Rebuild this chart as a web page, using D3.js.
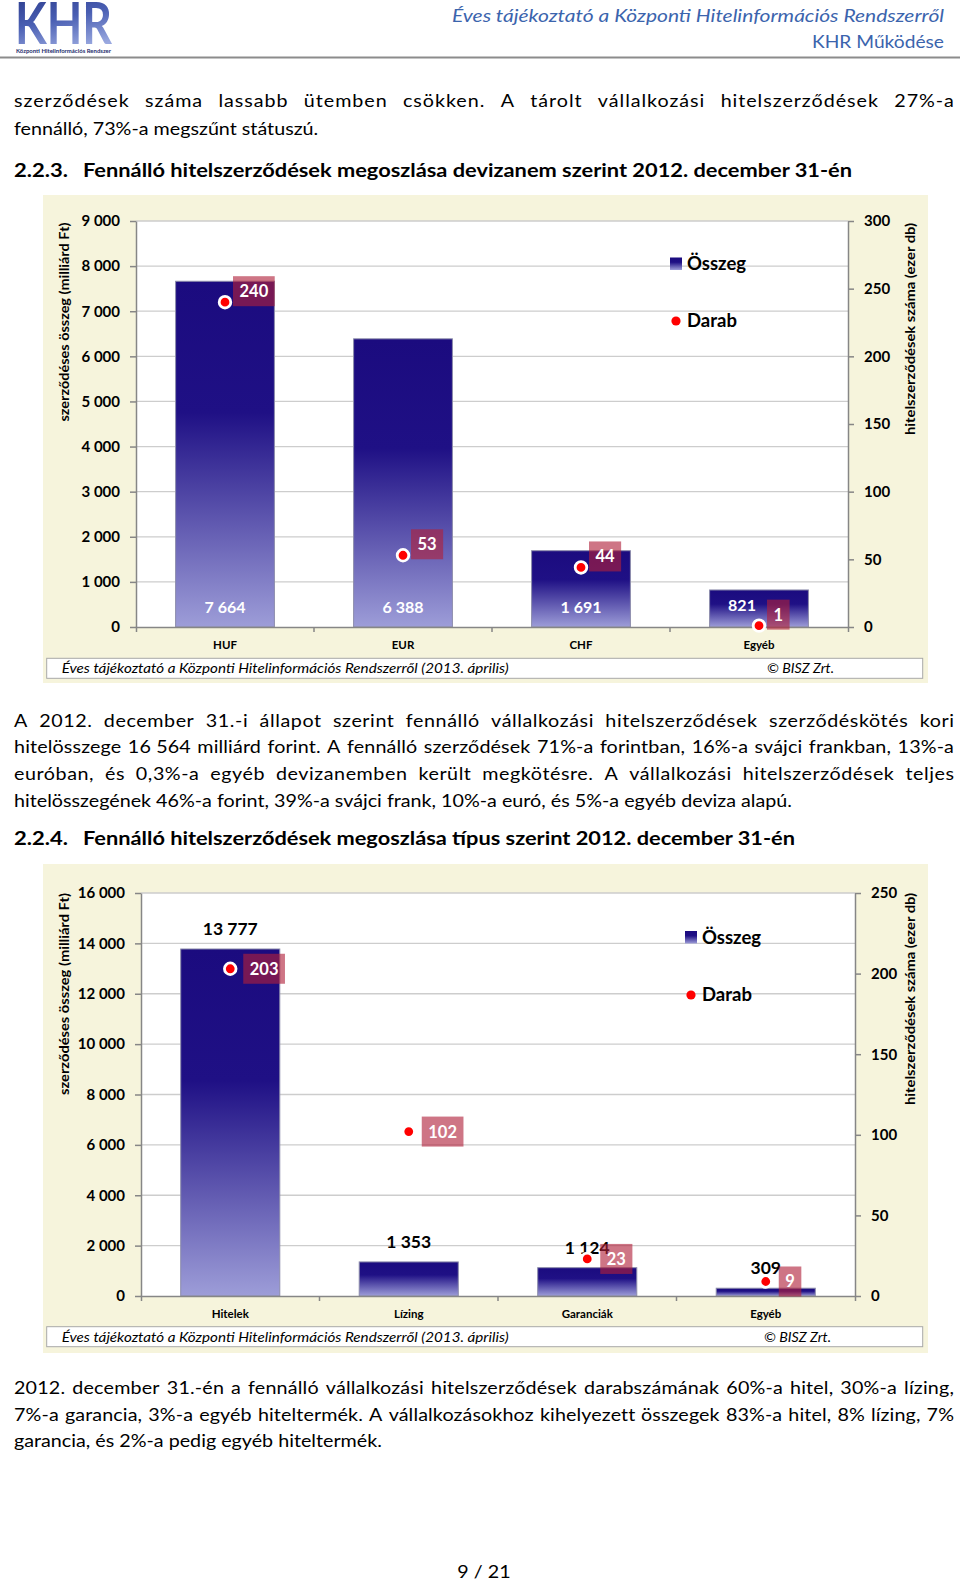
<!DOCTYPE html>
<html>
<head>
<meta charset="utf-8">
<script src="https://cdn.jsdelivr.net/npm/d3@7"></script>
<style>
  body { margin: 0; background: #fff; }
  text { font-family: Lato, "Open Sans", sans-serif; }
</style>
</head>
<body>
<svg id="page" width="960" height="1585"></svg>
<script>
// ---- data ----
const devizaCats = ["HUF", "EUR", "CHF", "Egyéb"]
const devizaOsszeg = [7664, 6388, 1691, 821]
const devizaDarab = [240, 53, 44, 1]
const devizaLeftTicks = [0, 1000, 2000, 3000, 4000, 5000, 6000, 7000, 8000, 9000]
const devizaRightTicks = [0, 50, 100, 150, 200, 250, 300]

const tipusCats = ["Hitelek", "Lízing", "Garanciák", "Egyéb"]
const tipusOsszeg = [13777, 1353, 1124, 309]
const tipusDarab = [203, 102, 23, 9]
const tipusLeftTicks = [0, 2000, 4000, 6000, 8000, 10000, 12000, 14000, 16000]
const tipusRightTicks = [0, 50, 100, 150, 200, 250]

const para1 = [
  "szerződések száma lassabb ütemben csökken. A tárolt vállalkozási hitelszerződések 27%-a",
  "fennálló, 73%-a megszűnt státuszú."
]
const para2 = [
  "A 2012. december 31.-i állapot szerint fennálló vállalkozási hitelszerződések szerződéskötés kori",
  "hitelösszege 16\u00a0564 milliárd forint. A fennálló szerződések 71%-a forintban, 16%-a svájci frankban, 13%-a",
  "euróban, és 0,3%-a egyéb devizanemben került megkötésre. A vállalkozási hitelszerződések teljes",
  "hitelösszegének 46%-a forint, 39%-a svájci frank, 10%-a euró, és 5%-a egyéb deviza alapú."
]
const para3 = [
  "2012. december 31.-én a fennálló vállalkozási hitelszerződések darabszámának 60%-a hitel, 30%-a lízing,",
  "7%-a garancia, 3%-a egyéb hiteltermék. A vállalkozásokhoz kihelyezett összegek 83%-a hitel, 8% lízing, 7%",
  "garancia, és 2%-a pedig egyéb hiteltermék."
]
const heading1 = ["2.2.3.", "Fennálló hitelszerződések megoszlása devizanem szerint 2012. december 31-én"]
const heading2 = ["2.2.4.", "Fennálló hitelszerződések megoszlása típus szerint 2012. december 31-én"]
const sourceText = "Éves tájékoztató a Központi Hitelinformációs Rendszerről (2013. április)"
const copyText = "© BISZ Zrt."

const fmt = d3.formatLocale({decimal: ",", thousands: " ", grouping: [3], currency: ["", ""]}).format(",d")

const svg = d3.select("#page")
const defs = svg.append("defs")

// bar gradient, dark on top, light at the base
const barGrad = defs.append("linearGradient").attr("id", "barGrad")
  .attr("x1", 0).attr("y1", 0).attr("x2", 0).attr("y2", 1)
barGrad.append("stop").attr("offset", 0).attr("stop-color", "#1b0b7f")
barGrad.append("stop").attr("offset", 0.38).attr("stop-color", "#1f1085")
barGrad.append("stop").attr("offset", 1).attr("stop-color", "#9d9dd8")

const logoGrad = defs.append("linearGradient").attr("id", "logoGrad")
  .attr("x1", 0).attr("y1", 0).attr("x2", 0.3).attr("y2", 1)
logoGrad.append("stop").attr("offset", 0).attr("stop-color", "#243383")
logoGrad.append("stop").attr("offset", 0.55).attr("stop-color", "#4a5fb3")
logoGrad.append("stop").attr("offset", 1).attr("stop-color", "#9aa9e0")

function measure(str, size, weight, style) {
  const t = svg.append("text").attr("font-size", size).attr("font-weight", weight || "normal")
    .attr("font-style", style || "normal").text(str)
  const w = t.node().getComputedTextLength()
  t.remove()
  return w
}

// ---- header ----
svg.append("text").attr("x", 15).attr("y", 44)
  .attr("font-family", "Liberation Sans").attr("font-weight", "bold").attr("font-size", 58)
  .attr("textLength", 97).attr("lengthAdjust", "spacingAndGlyphs")
  .attr("fill", "url(#logoGrad)").text("KHR")
svg.append("text").attr("x", 16).attr("y", 53)
  .attr("font-family", "Liberation Sans").attr("font-weight", "bold").attr("font-size", 5.5)
  .attr("textLength", 95).attr("lengthAdjust", "spacingAndGlyphs")
  .attr("fill", "#1e2c6c").text("Központi Hitelinformációs Rendszer")

svg.append("text").attr("x", 944).attr("y", 22).attr("text-anchor", "end")
  .attr("font-size", 17.5).attr("font-style", "italic").attr("fill", "#3b64ad")
  .attr("textLength", 492).attr("lengthAdjust", "spacingAndGlyphs")
  .text("Éves tájékoztató a Központi Hitelinformációs Rendszerről")
svg.append("text").attr("x", 944).attr("y", 48).attr("text-anchor", "end")
  .attr("font-size", 17.5).attr("fill", "#3b64ad")
  .attr("textLength", 132).attr("lengthAdjust", "spacingAndGlyphs")
  .text("KHR Működése")
svg.append("line").attr("x1", 0).attr("x2", 960).attr("y1", 57.5).attr("y2", 57.5)
  .attr("stroke", "#8c8c8c").attr("stroke-width", 1.8)

// ---- body text ----
const BODY_SIZE = 17.5
const LEFT = 14, RIGHT = 954
const k = 779 / measure(para2[3], BODY_SIZE)
const spaceW = (measure("a a", BODY_SIZE) - measure("aa", BODY_SIZE)) * k
const SPREAD = 0.45   // share of the justification slack given to letter spacing

function textLine(str, y, justify) {
  if (!justify) {
    svg.append("text").attr("transform", `translate(${LEFT},${y}) scale(${k},1)`)
      .attr("font-size", BODY_SIZE).attr("fill", "#000").text(str)
    return
  }
  const words = str.split(" ")
  const lens = words.map(w => Array.from(w).length)
  const ws = words.map(w => measure(w, BODY_SIZE) * k)
  const slack = (RIGHT - LEFT) - d3.sum(ws) - spaceW * (words.length - 1)
  const ls = Math.max(0, SPREAD * slack / d3.sum(lens))
  const full = ws.map((w, i) => w + ls * (lens[i] - 1))
  const gap = (RIGHT - LEFT - d3.sum(full)) / (words.length - 1)
  let x = LEFT
  words.forEach((w, i) => {
    svg.append("text").attr("transform", `translate(${x},${y}) scale(${k},1)`)
      .attr("font-size", BODY_SIZE).attr("letter-spacing", ls / k).attr("fill", "#000").text(w)
    x += full[i] + gap
  })
}

function paragraph(lines, y0, step) {
  lines.forEach((l, i) => textLine(l, y0 + i * step, i < lines.length - 1))
}

function heading(parts, y, width) {
  svg.append("text").attr("x", LEFT).attr("y", y).attr("font-size", 19).attr("font-weight", "bold")
    .attr("textLength", 54).attr("lengthAdjust", "spacingAndGlyphs").text(parts[0])
  svg.append("text").attr("x", 83).attr("y", y).attr("font-size", 19).attr("font-weight", "bold")
    .attr("textLength", width).attr("lengthAdjust", "spacingAndGlyphs").text(parts[1])
}

paragraph(para1, 107, 27.8)
heading(heading1, 177, 769)
paragraph(para2, 726.5, 26.8)
heading(heading2, 845, 712)
paragraph(para3, 1394, 26.5)

svg.append("text").attr("transform", `translate(484,1578) scale(${k},1)`).attr("text-anchor", "middle")
  .attr("font-size", BODY_SIZE).text("9 / 21")

// ---- charts ----
function styleAxis(a, size) {
  a.attr("font-family", null).attr("font-size", size).attr("font-weight", "bold")
  a.select(".domain").attr("stroke", "#868686").attr("stroke-width", 1.5)
  a.selectAll(".tick line").attr("stroke", "#868686").attr("stroke-width", 1.5)
  a.selectAll(".tick text").attr("fill", "#000")
}

function drawChart(cfg) {
  const g = svg.append("g")
  const p = cfg.plot

  g.append("rect").attr("x", cfg.panel.x).attr("y", cfg.panel.y)
    .attr("width", cfg.panel.w).attr("height", cfg.panel.h).attr("fill", "#f6f4dc")
  g.append("rect").attr("x", p.x0).attr("y", p.y0)
    .attr("width", p.x1 - p.x0).attr("height", p.y1 - p.y0).attr("fill", "#fff")

  const x = d3.scaleBand().domain(cfg.cats).range([p.x0, p.x1]).paddingInner(0.445).paddingOuter(0.2225)
  const yL = d3.scaleLinear().domain(d3.extent(cfg.leftTicks)).range([p.y1, p.y0])
  const yR = d3.scaleLinear().domain(d3.extent(cfg.rightTicks)).range([p.y1, p.y0])

  const rows = cfg.cats.map((c, i) => ({cat: c, osszeg: cfg.osszeg[i], darab: cfg.darab[i]}))

  g.selectAll(".grid").data(cfg.leftTicks.slice(1)).join("line").attr("class", "grid")
    .attr("x1", p.x0).attr("x2", p.x1).attr("y1", d => yL(d)).attr("y2", d => yL(d))
    .attr("stroke", "#cdcdcd").attr("stroke-width", 1.3)

  g.selectAll(".bar").data(rows).join("rect").attr("class", "bar")
    .attr("x", d => x(d.cat)).attr("y", d => yL(d.osszeg))
    .attr("width", x.bandwidth()).attr("height", d => yL(0) - yL(d.osszeg))
    .attr("fill", "url(#barGrad)").attr("stroke", "#8c8cab").attr("stroke-width", 1)

  const left = g.append("g").attr("transform", `translate(${p.x0},0)`)
    .call(d3.axisLeft(yL).tickValues(cfg.leftTicks).tickFormat(fmt).tickSize(6).tickSizeOuter(0).tickPadding(10))
  styleAxis(left, 15)
  const right = g.append("g").attr("transform", `translate(${p.x1},0)`)
    .call(d3.axisRight(yR).tickValues(cfg.rightTicks).tickSize(6).tickSizeOuter(0).tickPadding(10))
  styleAxis(right, 15)
  const bottom = g.append("g").attr("transform", `translate(0,${p.y1})`)
    .call(d3.axisBottom(x).tickSize(0).tickSizeOuter(5).tickPadding(14))
  styleAxis(bottom, 11.5)
  // category boundary ticks
  const bounds = cfg.cats.slice(1).map(c => x(c) - x.step() * x.paddingInner() / 2)
  g.selectAll(".btick").data(bounds).join("line").attr("class", "btick")
    .attr("x1", d => d).attr("x2", d => d).attr("y1", p.y1).attr("y2", p.y1 + 5)
    .attr("stroke", "#868686").attr("stroke-width", 1.5)

  // amount labels
  const lowDot = d => cfg.inside && yR(d.darab) > yL(0) - 30
  g.selectAll(".vlab").data(rows).join("text").attr("class", "vlab")
    .attr("x", d => x(d.cat) + x.bandwidth() / 2 - (lowDot(d) ? 17 : 0))
    .attr("y", d => cfg.inside ? yL(0) - (lowDot(d) ? 16 : 14) : yL(d.osszeg) - 14)
    .attr("text-anchor", "middle").attr("font-weight", "bold")
    .attr("font-size", cfg.inside ? 16 : 17.5).attr("fill", cfg.inside ? "#fff" : "#000")
    .text(d => fmt(d.osszeg))

  // count markers with their label boxes
  g.selectAll(".dot").data(rows).join("circle").attr("class", "dot")
    .attr("cx", d => x(d.cat) + x.bandwidth() / 2).attr("cy", d => yR(d.darab))
    .attr("r", 5.8).attr("fill", "#f00").attr("stroke", "#fff").attr("stroke-width", 2.8)

  rows.forEach(d => {
    const cx = x(d.cat) + x.bandwidth() / 2, cy = yR(d.darab)
    const s = String(d.darab)
    const bw = measure(s, 16.5, "bold") + 13
    const bx = cx + cfg.boxDx, by = cy + cfg.boxDy
    g.append("rect").attr("x", bx).attr("y", by).attr("width", bw).attr("height", 30)
      .attr("fill", "rgb(176,32,58)").attr("fill-opacity", 0.62)
    g.append("text").attr("x", bx + bw / 2).attr("y", by + 21)
      .attr("text-anchor", "middle").attr("font-size", 16.5).attr("font-weight", "bold")
      .attr("fill", "#fff").text(s)
  })

  // legend
  const lg = cfg.legend
  g.append("rect").attr("x", lg.x).attr("y", lg.y - 12.5).attr("width", 12).attr("height", 12.5)
    .attr("fill", "url(#barGrad)")
  g.append("text").attr("x", lg.x + 17).attr("y", lg.y).attr("font-size", 18.5).attr("font-weight", "bold")
    .text("Összeg")
  g.append("circle").attr("cx", lg.x + 6).attr("cy", lg.y2 - 6).attr("r", 4.6).attr("fill", "#f00")
  g.append("text").attr("x", lg.x + 17).attr("y", lg.y2).attr("font-size", 18.5).attr("font-weight", "bold")
    .text("Darab")

  // axis titles
  g.append("text").attr("transform", `translate(${cfg.panel.x + 26},${cfg.titleLeftY}) rotate(-90)`)
    .attr("text-anchor", "middle").attr("font-size", 12.6).attr("font-weight", "bold")
    .attr("textLength", cfg.titleLeftLen).attr("lengthAdjust", "spacingAndGlyphs")
    .text("szerződéses összeg (milliárd Ft)")
  g.append("text").attr("transform", `translate(914.5,${cfg.titleRightY}) rotate(-90)`)
    .attr("text-anchor", "middle").attr("font-size", 12.6).attr("font-weight", "bold")
    .attr("textLength", 212).attr("lengthAdjust", "spacingAndGlyphs")
    .text("hitelszerződések száma (ezer db)")

  // source footer
  const fy = cfg.footerY
  g.append("rect").attr("x", 46.7).attr("y", fy).attr("width", 876).attr("height", 20)
    .attr("fill", "#fff").attr("stroke", "#a8a8a8").attr("stroke-width", 1)
  g.append("text").attr("x", 61.7).attr("y", fy + 15).attr("font-size", 14).attr("font-style", "italic")
    .attr("textLength", 447).attr("lengthAdjust", "spacingAndGlyphs").text(sourceText)
  g.append("text").attr("x", cfg.copyX).attr("y", fy + 15).attr("font-size", 14).attr("font-style", "italic")
    .attr("textLength", 67).attr("lengthAdjust", "spacingAndGlyphs").text(copyText)
}

drawChart({
  cats: devizaCats, osszeg: devizaOsszeg, darab: devizaDarab,
  leftTicks: devizaLeftTicks, rightTicks: devizaRightTicks,
  panel: {x: 43, y: 195, w: 885, h: 488},
  plot: {x0: 136, x1: 848, y0: 221, y1: 627},
  inside: true, boxDx: 8, boxDy: -26,
  legend: {x: 670, y: 270, y2: 327},
  titleLeftY: 322, titleLeftLen: 199, titleRightY: 329,
  footerY: 658.3, copyX: 767
})

drawChart({
  cats: tipusCats, osszeg: tipusOsszeg, darab: tipusDarab,
  leftTicks: tipusLeftTicks, rightTicks: tipusRightTicks,
  panel: {x: 43, y: 864, w: 885, h: 489},
  plot: {x0: 141, x1: 855, y0: 893, y1: 1296},
  inside: false, boxDx: 13, boxDy: -15,
  legend: {x: 685, y: 943.5, y2: 1001},
  titleLeftY: 994, titleLeftLen: 202, titleRightY: 999,
  footerY: 1326.7, copyX: 764
})
</script>
</body>
</html>
